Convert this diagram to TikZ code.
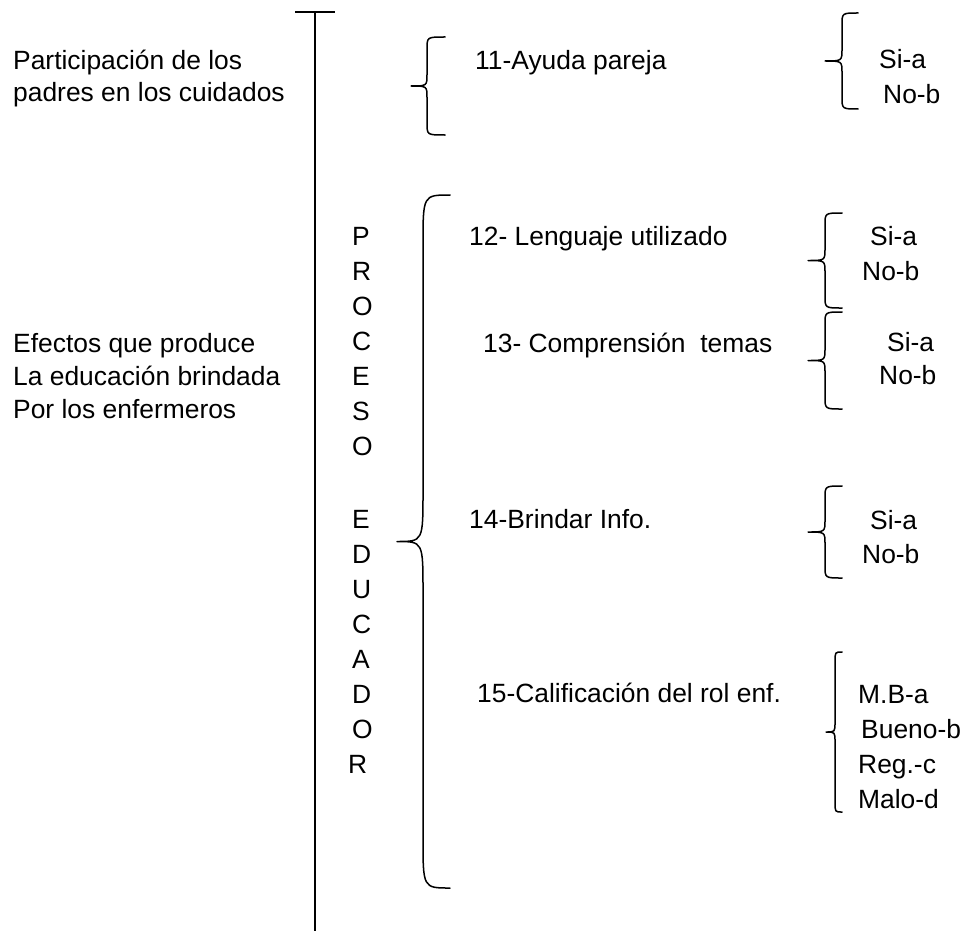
\documentclass[tikz,border=0pt]{standalone}
\usepackage{fontspec}
\setmainfont{Liberation Sans}
\newcommand{\mybrace}[6]{%
  % #1 tip x, #2 spine x, #3 end x, #4 top y, #5 bottom y, #6 radius
  \pgfmathsetmacro{\bm}{(#4+#5)/2}%
  \draw[bracestyle] (#3,#4) .. controls (#2,#4) .. (#2,#4+#6)
    -- (#2,\bm-#6) .. controls (#2,\bm) .. (#1,\bm)
    .. controls (#2,\bm) .. (#2,\bm+#6)
    -- (#2,#5-#6) .. controls (#2,#5) .. (#3,#5);}
\tikzset{
  txt/.style={inner sep=0pt, anchor=base west, font=\fontsize{26.4}{32}\selectfont},
  bracestyle/.style={line width=1.5pt, line cap=round, line join=round},
  axisline/.style={line width=2pt}
}
\begin{document}
\begin{tikzpicture}[x=1pt,y=-1pt]
\useasboundingbox[fill=white] (0,0) rectangle (965,931);
% main vertical line with top tick
\coordinate (tl) at (295,12);
\coordinate (tr) at (335,12);
\coordinate (vt) at (315,12);
\coordinate (vb) at (315,931);
\draw[axisline] (tl) -- (tr);
\draw[axisline] (vt) -- (vb);

% left texts
\node[txt] (p1) at (13,70) {Participación de los};
\node[txt] (p2) at (13,102) {padres en los cuidados};
\node[txt] (e1) at (13,352) {Efectos que produce};
\node[txt] (e2) at (13,385) {La educación brindada};
\node[txt] (e3) at (13,418) {Por los enfermeros};

% vertical letters
\foreach \l/\yy [count=\i] in {P/245,R/280,O/315,C/350,E/385,S/420,O/455,E/528,D/563,U/598,C/633,A/668,D/703,O/738}{
  \node[txt] (L\i) at (352,\yy) {\l};
}
\node[txt] (L15) at (348,773) {R};

% brace 11 group
\mybrace{411}{427}{445}{37}{135}{12}
\node[txt] (q11) at (475,70) {11-Ayuda pareja};
\mybrace{825}{842}{858}{13}{109}{12}
\node[txt] (s11) at (879,69) {Si-a};
\node[txt] (n11) at (883,103) {No-b};

% big brace
\mybrace{397}{423}{450}{195}{888}{50}

% 12
\node[txt] (q12) at (469,245) {12- Lenguaje utilizado};
\mybrace{808}{825}{842}{213}{308}{12}
\node[txt] (s12) at (870,245) {Si-a};
\node[txt] (n12) at (862,280) {No-b};

% 13
\node[txt] (q13) at (483,352) {13- Comprensión\ \ temas};
\mybrace{808}{825}{842}{312}{409}{12}
\node[txt] (s13) at (887,351) {Si-a};
\node[txt] (n13) at (879,384) {No-b};

% 14
\node[txt] (q14) at (469,528) {14-Brindar Info.};
\mybrace{808}{825}{842}{486}{578}{12}
\node[txt] (s14) at (870,529) {Si-a};
\node[txt] (n14) at (862,563) {No-b};

% 15
\node[txt] (q15) at (477,702) {15-Calificación del rol enf.};
\mybrace{826}{835}{842}{652}{812}{10}
\node[txt] (r1) at (858,703) {M.B-a};
\node[txt] (r2) at (861,738) {Bueno-b};
\node[txt] (r3) at (858,773) {Reg.-c};
\node[txt] (r4) at (858,808) {Malo-d};
\end{tikzpicture}
\end{document}
